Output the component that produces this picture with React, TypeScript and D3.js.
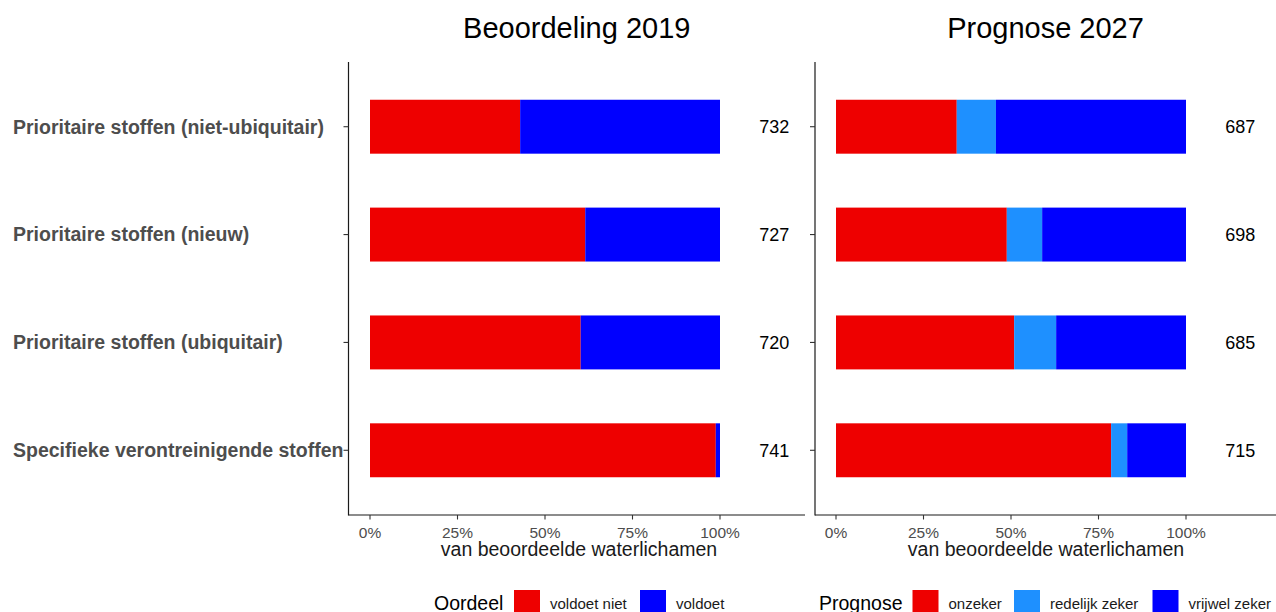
import React from "react";
import * as d3 from "d3";

const categories = [
  "Prioritaire stoffen (niet-ubiquitair)",
  "Prioritaire stoffen (nieuw)",
  "Prioritaire stoffen (ubiquitair)",
  "Specifieke verontreinigende stoffen",
];

// Beoordeling 2019 (fractions)
const voldoetNiet = [0.429, 0.615, 0.602, 0.988];
const voldoet = [0.571, 0.385, 0.398, 0.012];
const counts2019 = [732, 727, 720, 741];

// Prognose 2027 (fractions)
const onzeker = [0.345, 0.488, 0.509, 0.786];
const redelijkZeker = [0.112, 0.101, 0.12, 0.046];
const vrijwelZeker = [0.543, 0.411, 0.371, 0.168];
const counts2027 = [687, 698, 685, 715];

const xTicks = [0, 0.25, 0.5, 0.75, 1];
const countPos = 1.155;

const RED = "#EE0000";
const BLUE = "#0000FF";
const LIGHT = "#1E90FF";
const FONT = "'Liberation Sans', Arial, Helvetica, sans-serif";

type Seg = { key: string; label: string; color: string; values: number[] };

const seg2019: Seg[] = [
  { key: "vn", label: "voldoet niet", color: RED, values: voldoetNiet },
  { key: "v", label: "voldoet", color: BLUE, values: voldoet },
];
const seg2027: Seg[] = [
  { key: "o", label: "onzeker", color: RED, values: onzeker },
  { key: "r", label: "redelijk zeker", color: LIGHT, values: redelijkZeker },
  { key: "z", label: "vrijwel zeker", color: BLUE, values: vrijwelZeker },
];

const yScale = d3
  .scaleBand<string>()
  .domain(categories)
  .range([62, 515])
  .paddingInner(0.5)
  .paddingOuter(0.35);

function Panel(props: {
  title: string;
  segs: Seg[];
  counts: number[];
  axisX: number;
  panelRight: number;
  x0: number;
  x1: number;
  xTitleX: number;
}) {
  const { title, segs, counts, axisX, panelRight, x0, x1, xTitleX } = props;
  const x = d3.scaleLinear().domain([0, 1]).range([x0, x1]);
  const rows = categories.map((c, i) => {
    const r: any = { cat: c };
    segs.forEach((s) => (r[s.key] = s.values[i]));
    return r;
  });
  const stacked = d3.stack<any>().keys(segs.map((s) => s.key))(rows);
  const bw = yScale.bandwidth();
  return (
    <g>
      <text
        x={(axisX + panelRight) / 2}
        y={38}
        textAnchor="middle"
        fontSize={29}
        fontFamily={FONT}
        fill="#000"
      >
        {title}
      </text>
      {stacked.map((layer, li) => (
        <g key={layer.key} fill={segs[li].color}>
          {layer.map((d, i) => (
            <rect
              key={i}
              x={x(d[0])}
              y={yScale(categories[i])!}
              width={Math.max(0, x(d[1]) - x(d[0]))}
              height={bw}
            />
          ))}
        </g>
      ))}
      {counts.map((n, i) => (
        <text
          key={i}
          x={x(countPos)}
          y={yScale(categories[i])! + bw / 2}
          dy="0.35em"
          textAnchor="middle"
          fontSize={18}
          fontFamily={FONT}
          fill="#000"
        >
          {n}
        </text>
      ))}
      {/* y axis */}
      <line x1={axisX} x2={axisX} y1={62} y2={515.5} stroke="#1a1a1a" strokeWidth={1.2} />
      {categories.map((c, i) => (
        <line
          key={i}
          x1={axisX - 5}
          x2={axisX}
          y1={yScale(c)! + bw / 2}
          y2={yScale(c)! + bw / 2}
          stroke="#333"
          strokeWidth={1.1}
        />
      ))}
      {/* x axis */}
      <line x1={axisX} x2={panelRight} y1={515} y2={515} stroke="#1a1a1a" strokeWidth={1.2} />
      {xTicks.map((t) => (
        <g key={t}>
          <line x1={x(t)} x2={x(t)} y1={515} y2={519.5} stroke="#333" strokeWidth={1.1} />
          <text
            x={x(t)}
            y={538}
            textAnchor="middle"
            fontSize={15.5}
            fontFamily={FONT}
            fill="#4D4D4D"
          >
            {d3.format(".0%")(t)}
          </text>
        </g>
      ))}
      <text
        x={xTitleX}
        y={556}
        textAnchor="middle"
        fontSize={19.5}
        fontFamily={FONT}
        fill="#1a1a1a"
      >
        van beoordeelde waterlichamen
      </text>
    </g>
  );
}

function Legend(props: {
  title: string;
  titleX: number;
  segs: Seg[];
  keyXs: number[];
}) {
  const { title, titleX, segs, keyXs } = props;
  return (
    <g fontFamily={FONT}>
      <text x={titleX} y={610} fontSize={19.5} fill="#000">
        {title}
      </text>
      {segs.map((s, i) => (
        <g key={s.key}>
          <rect x={keyXs[i]} y={590} width={26} height={26} fill={s.color} />
          <text x={keyXs[i] + 36} y={609} fontSize={15} fill="#1a1a1a">
            {s.label}
          </text>
        </g>
      ))}
    </g>
  );
}

export default function App() {
  return (
    <svg
      width={1276}
      height={612}
      style={{ position: "absolute", left: 0, top: 0, background: "#fff" }}
    >
      <rect width={1276} height={612} fill="#fff" />
      {categories.map((c) => (
        <text
          key={c}
          x={13}
          y={yScale(c)! + yScale.bandwidth() / 2}
          dy="0.35em"
          fontSize={19.5}
          fontWeight="bold"
          fontFamily={FONT}
          fill="#4D4D4D"
        >
          {c}
        </text>
      ))}
      <Panel
        title="Beoordeling 2019"
        segs={seg2019}
        counts={counts2019}
        axisX={348.5}
        panelRight={805}
        x0={370}
        x1={720}
        xTitleX={579}
      />
      <Panel
        title="Prognose 2027"
        segs={seg2027}
        counts={counts2027}
        axisX={815}
        panelRight={1276}
        x0={836}
        x1={1186}
        xTitleX={1046}
      />
      <Legend title="Oordeel" titleX={434} segs={seg2019} keyXs={[514, 640]} />
      <Legend
        title="Prognose"
        titleX={819}
        segs={seg2027}
        keyXs={[912.5, 1014, 1152.5]}
      />
    </svg>
  );
}
